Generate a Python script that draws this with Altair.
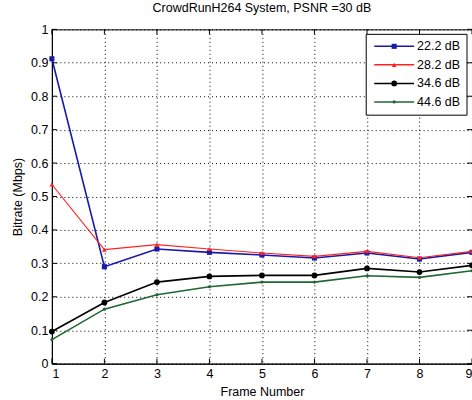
import altair as alt
import pandas as pd

# Per-frame bitrate (Mbps) for each quality level
frames = [1, 2, 3, 4, 5, 6, 7, 8, 9]
series_names = ["22.2 dB", "28.2 dB", "34.6 dB", "44.6 dB"]
rate_22 = [0.912, 0.290, 0.343, 0.333, 0.325, 0.316, 0.331, 0.313, 0.333]
rate_28 = [0.536, 0.341, 0.356, 0.343, 0.331, 0.321, 0.336, 0.317, 0.336]
rate_34 = [0.096, 0.183, 0.244, 0.261, 0.264, 0.264, 0.285, 0.274, 0.294]
rate_44 = [0.072, 0.163, 0.206, 0.230, 0.244, 0.244, 0.263, 0.258, 0.278]
x_ticks = [1, 2, 3, 4, 5, 6, 7, 8, 9]
y_ticks = [0, 0.1, 0.2, 0.3, 0.4, 0.5, 0.6, 0.7, 0.8, 0.9, 1]

colors = ["#1a1aa8", "#ff2020", "#000000", "#226633"]
shapes = ["square", "triangle-up", "circle", "circle"]
sizes = [26, 22, 34, 10]
widths = [1.6, 1.1, 1.6, 1.6]

W, H = 421, 335
FONT = "Liberation Sans"
FS = 12.5

rows = []
for name, vals in zip(series_names, [rate_22, rate_28, rate_34, rate_44]):
    for f, v in zip(frames, vals):
        rows.append({"frame": f, "rate": v, "series": name})
df = pd.DataFrame(rows)

xscale = alt.Scale(domain=[1, 9], nice=False, zero=False)
yscale = alt.Scale(domain=[0, 1], nice=False)

x_axis = alt.Axis(values=x_ticks, format="d", title="Frame Number",
                  grid=True, gridDash=[1, 3], gridColor="black",
                  gridOpacity=1, ticks=False, labelPadding=4,
                  titlePadding=5, labelFont=FONT, labelFontSize=FS,
                  labelColor="black", titleFont=FONT, titleFontSize=FS,
                  titleFontWeight="normal", titleColor="black",
                  domainColor="black", labelOverlap=False)
y_axis = alt.Axis(values=y_ticks, format="~g", title="Bitrate (Mbps)",
                  grid=True, gridDash=[1, 3], gridColor="black",
                  gridOpacity=1, ticks=False, labelPadding=4,
                  titlePadding=6, labelFont=FONT, labelFontSize=FS,
                  labelColor="black", titleFont=FONT, titleFontSize=FS,
                  titleFontWeight="normal", titleColor="black",
                  domainColor="black", labelOverlap=False)


def xe(field="frame:Q"):
    return alt.X(field, scale=xscale, axis=x_axis)


def ye(field="rate:Q"):
    return alt.Y(field, scale=yscale, axis=y_axis)


layers = []
for i, name in enumerate(series_names):
    base = alt.Chart(df[df["series"] == name])
    line = base.mark_line(color=colors[i], strokeWidth=widths[i]).encode(
        x=xe(), y=ye())
    pts = base.mark_point(shape=shapes[i], size=sizes[i], filled=True,
                          color=colors[i], opacity=1).encode(x=xe(), y=ye())
    layers += [line, pts]

# Inward-pointing tick marks on all four sides
xt = alt.Chart(pd.DataFrame({"frame": x_ticks}))
yt = alt.Chart(pd.DataFrame({"rate": y_ticks}))
tick_style = dict(color="black", strokeWidth=1)
ticks = [
    xt.mark_rule(**tick_style).encode(x=xe(), y=alt.value(0), y2=alt.value(5)),
    xt.mark_rule(**tick_style).encode(x=xe(), y=alt.value(H), y2=alt.value(H - 5)),
    yt.mark_rule(**tick_style).encode(y=ye(), x=alt.value(0), x2=alt.value(5)),
    yt.mark_rule(**tick_style).encode(y=ye(), x=alt.value(W - 5), x2=alt.value(W)),
]

main = alt.layer(*layers, *ticks)

# Boxed legend in the upper right corner
leg_df = pd.DataFrame({"series": series_names})
leg_y = alt.Y("series:N", sort=series_names,
              scale=alt.Scale(type="point", range=[17, 72.7], padding=0),
              axis=None)
leg_color = alt.Color("series:N", sort=series_names,
                      scale=alt.Scale(domain=series_names, range=colors),
                      legend=None)
box = alt.Chart(pd.DataFrame({"k": [0]})).mark_rect(
    fill="white", stroke="black", strokeWidth=1
).encode(x=alt.value(315), x2=alt.value(416), y=alt.value(5), y2=alt.value(86))
leg_lines = alt.Chart(leg_df).mark_rule(strokeWidth=1.5).encode(
    x=alt.value(323), x2=alt.value(363), y=leg_y, color=leg_color)
leg_pts = []
for i, name in enumerate(series_names):
    leg_pts.append(
        alt.Chart(leg_df[leg_df["series"] == name]).mark_point(
            shape=shapes[i], size=sizes[i], filled=True, color=colors[i], opacity=1
        ).encode(x=alt.value(343), y=leg_y)
    )
leg_text = alt.Chart(leg_df).mark_text(
    align="left", baseline="middle", font=FONT, fontSize=FS, color="black"
).encode(x=alt.value(366), y=leg_y, text="series:N")
legend = alt.layer(box, leg_lines, *leg_pts, leg_text)

chart = alt.layer(main, legend).resolve_scale(y="independent").properties(
    width=W, height=H,
    background="white",
    title=alt.TitleParams("CrowdRunH264 System, PSNR =30 dB", font=FONT,
                          fontSize=FS, fontWeight="normal", color="black",
                          anchor="middle", offset=9),
    autosize=alt.AutoSizeParams(type="none"),
    padding={"left": 52, "top": 29, "right": 0, "bottom": 36},
).configure_view(stroke="black", strokeWidth=1)

chart.save("out.html", embed_options={"renderer": "svg", "actions": False})
